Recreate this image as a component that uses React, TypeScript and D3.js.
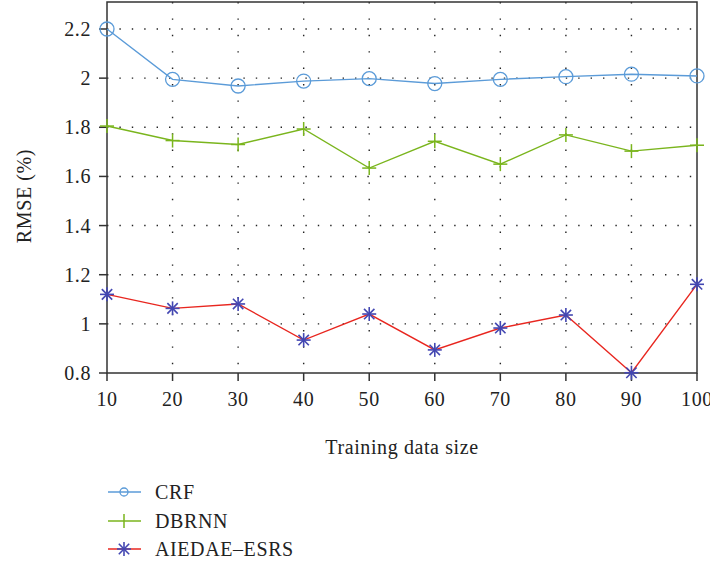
import React from "react";
import * as d3 from "d3";

const sizes = [10, 20, 30, 40, 50, 60, 70, 80, 90, 100];
const crf = [2.2, 1.995, 1.968, 1.988, 1.998, 1.978, 1.995, 2.006, 2.016, 2.009];
const dbrnn = [1.805, 1.746, 1.73, 1.793, 1.634, 1.743, 1.65, 1.769, 1.703, 1.727];
const aiedae = [1.12, 1.063, 1.081, 0.934, 1.04, 0.894, 0.983, 1.036, 0.801, 1.161];
const yTicks = [0.8, 1, 1.2, 1.4, 1.6, 1.8, 2, 2.2];
const seriesNames = ["CRF", "DBRNN", "AIEDAE\u2013ESRS"];

const W = 710, H = 565;
const left = 107, right = 697, top = 2, bottom = 373;
const FONT = "'Liberation Serif', 'DejaVu Serif', serif";
const FS = 20;
const LS = 0.6;

const colors = { crf: "#5b9bd8", dbrnn: "#7ab51d", aiedae: "#e8261f", star: "#4347b2" };

function Circle({ x, y }: { x: number; y: number }) {
  return <circle cx={x} cy={y} r={7} fill="none" stroke={colors.crf} strokeWidth={1.3} />;
}
function Plus({ x, y }: { x: number; y: number }) {
  const s = 7;
  return (
    <g stroke={colors.dbrnn} strokeWidth={1.5}>
      <line x1={x - s} x2={x + s} y1={y} y2={y} />
      <line x1={x} x2={x} y1={y - s} y2={y + s} />
    </g>
  );
}
function Star({ x, y }: { x: number; y: number }) {
  const s = 7, d = 5.2;
  return (
    <g stroke={colors.star} strokeWidth={1.6}>
      <line x1={x - s} x2={x + s} y1={y} y2={y} />
      <line x1={x} x2={x} y1={y - s} y2={y + s} />
      <line x1={x - d} x2={x + d} y1={y - d} y2={y + d} />
      <line x1={x - d} x2={x + d} y1={y + d} y2={y - d} />
    </g>
  );
}

export default function App() {
  const x = d3.scaleLinear().domain([10, 100]).range([left, right]);
  const y = d3.scaleLinear().domain([0.8, 2.2]).range([bottom, 29]);
  const line = d3
    .line<number>()
    .x((_, i) => x(sizes[i]))
    .y((v) => y(v));

  const legendY = [492, 521, 549];

  return (
    <svg width={W} height={H} style={{ position: "absolute", left: 0, top: 0, background: "#fff" }}>
      {/* grid */}
      {yTicks.slice(1).map((t) => (
        <line key={"gy" + t} x1={left} x2={right} y1={y(t)} y2={y(t)} stroke="#222" strokeWidth={1.4} strokeDasharray="1.4,11" />
      ))}
      {sizes.slice(1, -1).map((s) => (
        <line key={"gx" + s} x1={x(s)} x2={x(s)} y1={top} y2={bottom} stroke="#222" strokeWidth={1.4} strokeDasharray="1.4,15" />
      ))}
      {/* frame */}
      <rect x={left} y={top} width={right - left} height={bottom - top} fill="none" stroke="#333" strokeWidth={1.5} />
      {/* ticks */}
      {yTicks.map((t) => (
        <g key={"ty" + t}>
          <line x1={left - 8} x2={left} y1={y(t)} y2={y(t)} stroke="#333" strokeWidth={1.5} />
          <text x={left - 16} y={y(t)} dy="0.35em" textAnchor="end" fontFamily={FONT} fontSize={FS} letterSpacing={LS} fill="#222">
            {d3.format("")(t)}
          </text>
        </g>
      ))}
      {sizes.map((s) => (
        <g key={"tx" + s}>
          <line x1={x(s)} x2={x(s)} y1={bottom} y2={bottom + 8} stroke="#333" strokeWidth={1.5} />
          <text x={x(s)} y={bottom + 33} textAnchor="middle" fontFamily={FONT} fontSize={FS} letterSpacing={LS} fill="#222">
            {s}
          </text>
        </g>
      ))}
      <text x={402} y={454} textAnchor="middle" fontFamily={FONT} fontSize={FS} letterSpacing={LS} fill="#222">
        Training data size
      </text>
      <text transform="translate(31,196) rotate(-90)" textAnchor="middle" fontFamily={FONT} fontSize={FS} letterSpacing={LS} fill="#222">
        RMSE (%)
      </text>
      {/* lines */}
      <path d={line(crf) || ""} fill="none" stroke={colors.crf} strokeWidth={1.4} />
      <path d={line(dbrnn) || ""} fill="none" stroke={colors.dbrnn} strokeWidth={1.4} />
      <path d={line(aiedae) || ""} fill="none" stroke={colors.aiedae} strokeWidth={1.4} />
      {crf.map((v, i) => <Circle key={"c" + i} x={x(sizes[i])} y={y(v)} />)}
      {dbrnn.map((v, i) => <Plus key={"p" + i} x={x(sizes[i])} y={y(v)} />)}
      {aiedae.map((v, i) => <Star key={"s" + i} x={x(sizes[i])} y={y(v)} />)}
      {/* legend */}
      {seriesNames.map((n, i) => {
        const ly = legendY[i];
        const c = i === 0 ? colors.crf : i === 1 ? colors.dbrnn : colors.aiedae;
        return (
          <g key={n}>
            <line x1={108} x2={141} y1={ly} y2={ly} stroke={c} strokeWidth={1.4} />
            {i === 0 && <circle cx={124} cy={ly} r={4} fill="none" stroke={colors.crf} strokeWidth={1.3} />}
            {i === 1 && (
              <g stroke={colors.dbrnn} strokeWidth={1.5}>
                <line x1={124} x2={124} y1={ly - 7} y2={ly + 7} />
              </g>
            )}
            {i === 2 && <Star x={124} y={ly} />}
            <text x={155} y={ly} dy="0.35em" fontFamily={FONT} fontSize={FS} letterSpacing={LS} fill="#222">
              {n}
            </text>
          </g>
        );
      })}
    </svg>
  );
}
